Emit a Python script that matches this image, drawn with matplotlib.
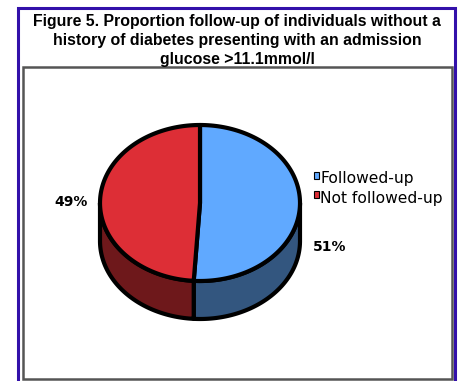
import numpy as np
import matplotlib

matplotlib.use("Agg")
import matplotlib.pyplot as plt  # noqa: E402
from matplotlib.patches import Polygon, Rectangle  # noqa: E402

# data
categories = ["Followed-up", "Not followed-up"]
percentages = [51, 49]
pct_labels = ["51%", "49%"]
top_colors = ["#60A9FF", "#DD2E36"]
side_colors = ["#33567F", "#6E181B"]

TITLE = (
    "Figure 5. Proportion follow-up of individuals without a\n"
    "history of diabetes presenting with an admission\n"
    "glucose >11.1mmol/l"
)

W, H = 459, 381
CX, CY = 200, H - 203  # pie centre (y up)
RA, RB = 100, 78  # ellipse semi-axes
DEPTH = 38


def arc(t1, t2, n=120, dy=0.0):
    t = np.radians(np.linspace(t1, t2, n))
    return np.column_stack([CX + RA * np.cos(t), CY + RB * np.sin(t) + dy])


fig = plt.figure(figsize=(W / 100, H / 100), dpi=100)
ax = fig.add_axes([0, 0, 1, 1])
ax.set_xlim(0, W)
ax.set_ylim(0, H)
ax.axis("off")

# frames
ax.add_patch(Rectangle((18, -5), 437, H - 8 + 5, fill=False, ec="#3311AA", lw=2.2))
ax.add_patch(Rectangle((23, 2), 429, H - 67 - 2, fill=False, ec="#555555", lw=1.8))

ax.text(237, H - 40.5, TITLE, ha="center", va="center", fontsize=11.4,
        fontweight="bold", family="Liberation Sans", linespacing=1.3)

# slice angles, clockwise from 12 o'clock
fracs = np.array(percentages) / sum(percentages)
ends = 90 - 360 * np.cumsum(fracs)
starts = np.concatenate([[90], ends[:-1]])

# sides (front half only: 180..360 deg)
for s, e, col in zip(starts, ends, side_colors):
    lo, hi = min(s, e), max(s, e)
    for shift in (0, 360, -360):
        a1 = max(lo + shift, 180)
        a2 = min(hi + shift, 360)
        if a2 > a1:
            top = arc(a1, a2)
            bot = arc(a2, a1, dy=-DEPTH)
            ax.add_patch(Polygon(np.vstack([top, bot]), closed=True, fc=col,
                                 ec="black", lw=3, joinstyle="round"))

# top wedges
for s, e, col in zip(starts, ends, top_colors):
    pts = np.vstack([[CX, CY], arc(e, s), [CX, CY]])
    ax.add_patch(Polygon(pts, closed=True, fc=col, ec="black", lw=3,
                         joinstyle="round"))

# percentage labels
ax.text(330, H - 247, pct_labels[0], ha="center", va="center", fontsize=10,
        fontweight="bold", family="DejaVu Sans")
ax.text(71, H - 202, pct_labels[1], ha="center", va="center", fontsize=10,
        fontweight="bold", family="DejaVu Sans")

# legend
for i, (name, col) in enumerate(zip(categories, top_colors)):
    y = H - 178 - 19 * i
    ax.add_patch(Rectangle((313.5, y - 0.5), 5, 7, fc=col, ec="black", lw=0.8))
    ax.text(320, y - 1, name, ha="left", va="center", fontsize=11.2,
            family="DejaVu Sans")

fig.savefig("out.png", dpi=100)
